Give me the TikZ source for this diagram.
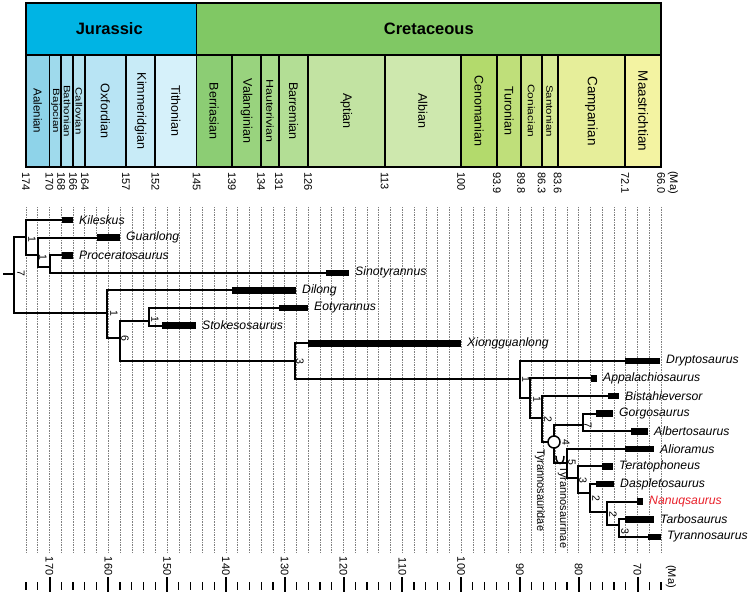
\documentclass[tikz,border=0pt]{standalone}
\usepackage{fontspec}
\setmainfont{Liberation Sans}
\usepackage{graphicx}
\definecolor{cJur}{HTML}{00B4E4}
\definecolor{cCre}{HTML}{80C864}
\definecolor{cAal}{HTML}{8ED3E9}
\definecolor{cBaj}{HTML}{9FDAEC}
\definecolor{cBat}{HTML}{ABDFEE}
\definecolor{cCal}{HTML}{B5E3F0}
\definecolor{cOxf}{HTML}{B8E4F4}
\definecolor{cKim}{HTML}{C8EBF7}
\definecolor{cTit}{HTML}{D6F1FA}
\definecolor{cBer}{HTML}{8CCD74}
\definecolor{cVal}{HTML}{99D37E}
\definecolor{cHau}{HTML}{A6D98A}
\definecolor{cBar}{HTML}{B3DE95}
\definecolor{cApt}{HTML}{C2E3A2}
\definecolor{cAlb}{HTML}{CEE8AE}
\definecolor{cCen}{HTML}{B3DA6C}
\definecolor{cTur}{HTML}{BFDF7A}
\definecolor{cCon}{HTML}{CCE488}
\definecolor{cSan}{HTML}{D7EA95}
\definecolor{cCam}{HTML}{E6EE9A}
\definecolor{cMaa}{HTML}{F3F3A2}
\definecolor{nanred}{HTML}{E8202A}
\newcommand{\agex}[1]{(26+(174-#1)*5.88)}
\newcommand{\taxonrow}[6]{%
  \coordinate (#1) at (#3,#2);
  \fill (#3,#2-3.3) rectangle (#4,#2+3.3);
  \node[taxon,#6] (#1-label) at (#4+6,#2) {#5};
}
\begin{document}
\begin{tikzpicture}[x=1pt,y=-1pt,
  branch/.style={line width=1.9pt, line join=miter},
  gridline/.style={densely dotted, line width=0.65pt, black!50},
  taxon/.style={anchor=west, inner sep=0pt, font=\fontsize{12.2}{14}\selectfont\itshape},
  nodelab/.style={rotate=-90, inner sep=0pt, font=\fontsize{10.5}{11}\selectfont},
  agelab/.style={rotate=-90, anchor=west, inner sep=0pt, font=\fontsize{11}{12}\selectfont},
  botlab/.style={rotate=-90, anchor=east, inner sep=0pt, font=\fontsize{11}{12}\selectfont},
  cladelab/.style={rotate=-90, anchor=west, inner sep=0pt, font=\fontsize{11}{12}\selectfont},
  boxline/.style={line width=1.9pt, line join=miter},
  minortick/.style={line width=1.2pt},
  majortick/.style={line width=2pt}]
\useasboundingbox (0,0) rectangle (750,595);

% ---------- time scale header ----------
\filldraw[fill=cJur, boxline] ({\agex{174}},3) rectangle ({\agex{145}},55);
\filldraw[fill=cCre, boxline] ({\agex{145}},3) rectangle ({\agex{66}},55);
\node[font=\fontsize{16.5}{18}\selectfont\bfseries] (jurassic) at ({(\agex{174}+\agex{145})/2-2},29) {Jurassic};
\node[font=\fontsize{16.5}{18}\selectfont\bfseries] (cretaceous) at ({(\agex{145}+\agex{66})/2},29) {Cretaceous};

\foreach \a/\b/\c/\n/\fs/\sq [count=\i] in {
  174/170/cAal/Aalenian/11.5/1,
  170/168/cBaj/Bajocian/11.5/0.8,
  168/166/cBat/Bathonian/11.5/0.8,
  166/164/cCal/Callovian/11.5/0.8,
  164/157/cOxf/Oxfordian/12.5/1,
  157/152/cKim/Kimmeridgian/12.5/1,
  152/145/cTit/Tithonian/12.5/1,
  145/139/cBer/Berriasian/12.5/1,
  139/134/cVal/Valanginian/12.5/1,
  134/131/cHau/Hauterivian/12.5/0.8,
  131/126/cBar/Barremian/12.5/1,
  126/113/cApt/Aptian/12.5/1,
  113/100/cAlb/Albian/12.5/1,
  100/93.9/cCen/Cenomanian/12.5/1,
  93.9/89.8/cTur/Turonian/12.5/1,
  89.8/86.3/cCon/Coniacian/12/0.8,
  86.3/83.6/cSan/Santonian/11.5/0.8,
  83.6/72.1/cCam/Campanian/13.5/1,
  72.1/66/cMaa/Maastrichtian/13.5/1}
{
  \filldraw[fill=\c, boxline] ({\agex{\a}},55) rectangle ({\agex{\b}},167);
  \node[rotate=-90, inner sep=0pt] (stage\i) at ({(\agex{\a}+\agex{\b})/2},111)
    {\fontsize{\fs}{14}\selectfont\scalebox{1}[\sq]{\n}};
}

\foreach \a/\t [count=\i] in {174/174,170/170,168/168,166/166,164/164,157/157,152/152,
  145/145,139/139,134/134,131/131,126/126,113/113,100/100,93.9/93.9,89.8/89.8,
  86.3/86.3,83.6/83.6,72.1/72.1,66/66.0}
  \node[agelab] (toplab\i) at ({\agex{\a}},172) {\t};
\node[agelab] (topma) at (673,171) {(Ma)};

% ---------- grid ----------
\foreach \a in {174,172,...,66}
  \draw[gridline] ({\agex{\a}},207) -- ({\agex{\a}},553);

% ---------- bottom axis ----------
\foreach \a in {174,172,...,66}
  \draw[minortick] ({\agex{\a}},582) -- ({\agex{\a}},590);
\foreach \a [count=\i] in {170,160,...,70}{
  \draw[majortick] ({\agex{\a}},577) -- ({\agex{\a}},592);
  \node[botlab] (botlab\i) at ({\agex{\a}},575.5) {\a};
}
\node[agelab] (botma) at (671,565) {(Ma)};

% ---------- tree: internal nodes ----------
\coordinate (rootstub) at (3,274);
\coordinate (root) at (14,274);
\coordinate (A) at (26,237);
\coordinate (B) at (38,255);
\coordinate (C) at (50,267);
\coordinate (D) at (107,313);
\coordinate (E) at (120,338);
\coordinate (Feo) at (149,321);
\coordinate (X) at (295,361);
\coordinate (G1) at (520,379);
\coordinate (G2) at (530,398);
\coordinate (H) at (542,418);
\coordinate (I) at (554,442);
\coordinate (albn) at (583,425);
\coordinate (J) at (567,463);
\coordinate (K) at (578,478);
\coordinate (L) at (590,493);
\coordinate (M) at (607,512);
\coordinate (N) at (619,525);

% ---------- taxa ----------
\taxonrow{kil}{220}{62}{73}{Kileskus}{}
\taxonrow{gua}{237.6}{97}{120}{Guanlong}{}
\taxonrow{pro}{255.2}{62}{73}{Proceratosaurus}{}
\taxonrow{sin}{272.8}{326}{349}{Sinotyrannus}{}
\taxonrow{dil}{290.4}{232}{296}{Dilong}{}
\taxonrow{eot}{308}{279}{308}{Eotyrannus}{}
\taxonrow{sto}{325.6}{162}{196}{Stokesosaurus}{}
\taxonrow{xio}{343.2}{308}{461}{Xiongguanlong}{}
\taxonrow{dry}{360.8}{625}{660}{Dryptosaurus}{}
\taxonrow{app}{378.4}{591}{597}{Appalachiosaurus}{}
\taxonrow{bis}{396}{608}{619}{Bistahieversor}{}
\taxonrow{gor}{413.6}{596}{613}{Gorgosaurus}{}
\taxonrow{alb}{431.2}{631}{648}{Albertosaurus}{}
\taxonrow{ali}{448.8}{625}{654}{Alioramus}{}
\taxonrow{ter}{466.4}{602}{613}{Teratophoneus}{}
\taxonrow{das}{484}{596}{614}{Daspletosaurus}{}
\taxonrow{nan}{501.6}{637}{643}{Nanuqsaurus}{text=nanred}
\taxonrow{tar}{519.2}{625}{654}{Tarbosaurus}{}
\taxonrow{tyr}{536.8}{648}{661}{Tyrannosaurus}{}

% ---------- branches ----------
\draw[branch] (rootstub) -- (root);
\draw[branch] (root) |- (A);
\draw[branch] (root) |- (D);
\draw[branch] (A) |- (kil);
\draw[branch] (A) |- (B);
\draw[branch] (B) |- (gua);
\draw[branch] (B) |- (C);
\draw[branch] (C) |- (pro);
\draw[branch] (C) |- (sin);
\draw[branch] (D) |- (dil);
\draw[branch] (D) |- (E);
\draw[branch] (E) |- (Feo);
\draw[branch] (E) |- (X);
\draw[branch] (Feo) |- (eot);
\draw[branch] (Feo) |- (sto);
\draw[branch] (X) |- (xio);
\draw[branch] (X) |- (G1);
\draw[branch] (G1) |- (dry);
\draw[branch] (G1) |- (G2);
\draw[branch] (G2) |- (app);
\draw[branch] (G2) |- (H);
\draw[branch] (H) |- (bis);
\draw[branch] (H) |- (I);
\draw[branch] (I) |- (albn);
\draw[branch] (I) |- (J);
\draw[branch] (albn) |- (gor);
\draw[branch] (albn) |- (alb);
\draw[branch] (J) |- (ali);
\draw[branch] (J) |- (K);
\draw[branch] (K) |- (ter);
\draw[branch] (K) |- (L);
\draw[branch] (L) |- (das);
\draw[branch] (L) |- (M);
\draw[branch] (M) |- (nan);
\draw[branch] (M) |- (N);
\draw[branch] (N) |- (tar);
\draw[branch] (N) |- (tyr);

% node-based (circle) and stem-based (arc) symbols
\node[circle, draw, fill=white, line width=1.5pt, minimum size=12pt, inner sep=0pt] (tyrcircle) at (I) {};
\draw[line width=1.5pt] (556,456) .. controls (556,466) and (564,466) .. (564,456);

% ---------- support values ----------
\node[nodelab] (sA) at (21,273) {7};
\node[nodelab] (sB) at (32,239) {1};
\node[nodelab] (sC) at (43,257) {1};
\node[nodelab] (sD) at (114,313) {1};
\node[nodelab] (sE) at (125,338) {6};
\node[nodelab] (sF) at (155,319) {1};
\node[nodelab] (sX) at (300,361) {3};
\node[nodelab] (sG1) at (526,379) {1};
\node[nodelab] (sG2) at (537,399) {1};
\node[nodelab] (sH) at (548,419) {2};
\node[nodelab] (sAlb) at (588,425) {7};
\node[nodelab] (sI) at (566,442) {4};
\node[nodelab] (sJ) at (572,462) {5};
\node[nodelab] (sK) at (583,480) {3};
\node[nodelab] (sL) at (596,498) {2};
\node[nodelab] (sM) at (613,514) {2};
\node[nodelab] (sN) at (625,531) {3};

% ---------- clade names ----------
\node[cladelab] (tyrannosauridae) at (540,449) {Tyrannosauridae};
\node[cladelab] (tyrannosaurinae) at (563,466) {Tyrannosaurinae};
\end{tikzpicture}
\end{document}
